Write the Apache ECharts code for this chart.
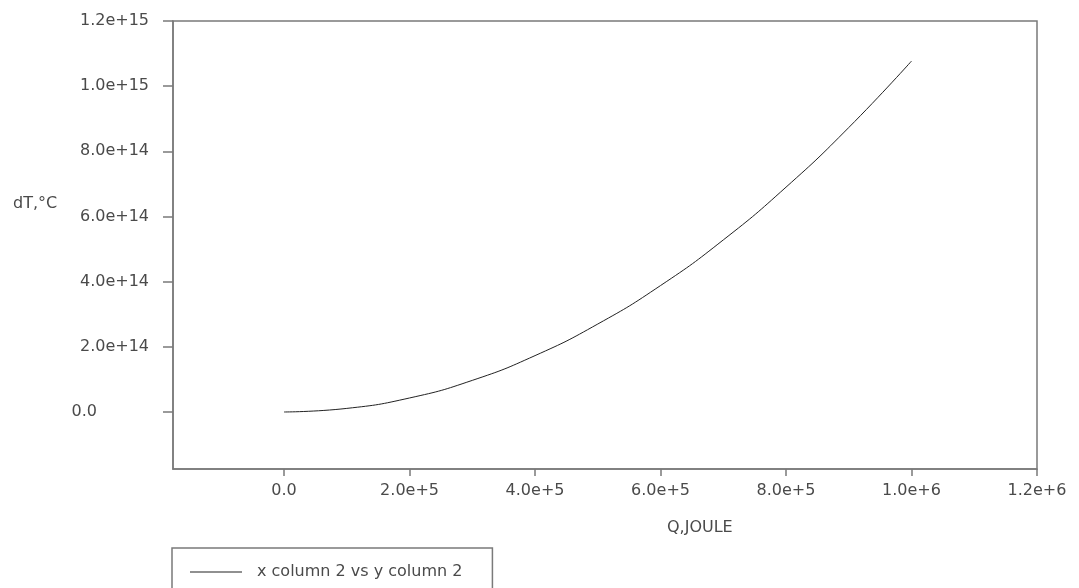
<!DOCTYPE html>
<html><head><meta charset="utf-8">
<script src="https://cdn.jsdelivr.net/npm/echarts@6/dist/echarts.min.js"></script>
<style>html,body{margin:0;padding:0;background:#fff}#c{width:1079px;height:588px}</style>
</head><body><div id="c"></div>
<script>
const xValues = [0, 1e5, 2e5, 3e5, 4e5, 5e5, 6e5, 7e5, 8e5, 9e5, 1e6];
const yValues = [0, 1.1e13, 4.3e13, 9.7e13, 1.73e14, 2.7e14, 3.88e14, 5.28e14, 6.9e14, 8.73e14, 1.077e15];
const xTicks = [0, 2e5, 4e5, 6e5, 8e5, 1e6, 1.2e6];
const yTicks = [0, 2e14, 4e14, 6e14, 8e14, 1e15, 1.2e15];
const seriesName = 'x column 2 vs y column 2';
const xTitle = 'Q,JOULE';
const yTitle = 'dT,°C';

function fmt(v){ return v === 0 ? '0.0' : v.toExponential(1); }
const axisColor = '#7a7a7a';
const textColor = '#4a4a4a';
const font = 'DejaVu Sans, Liberation Sans, sans-serif';
const fs = 16;

const chart = echarts.init(document.getElementById('c'), null, {renderer:'canvas'});
chart.setOption({
  animation:false,
  backgroundColor:'#fff',
  grid:{left:173, right:42, top:21, bottom:119, show:true, borderColor:axisColor, borderWidth:1.5},
  xAxis:{type:'value', min:-1.77e5, max:1.2e6,
    axisLine:{show:true, onZero:false, lineStyle:{color:axisColor, width:1.5}},
    splitLine:{show:false},
    axisTick:{show:true, length:7, customValues:xTicks, lineStyle:{color:axisColor, width:1.5}},
    axisLabel:{customValues:xTicks, formatter:fmt, margin:14, color:textColor, fontSize:fs, fontFamily:font}
  },
  yAxis:{type:'value', min:-1.75e14, max:1.2e15,
    axisLine:{show:true, onZero:false, lineStyle:{color:axisColor, width:1.5}},
    splitLine:{show:false},
    axisTick:{show:true, length:10, customValues:yTicks, lineStyle:{color:axisColor, width:1.5}},
    axisLabel:{customValues:yTicks, margin:24, color:textColor, fontSize:fs, fontFamily:font,
      formatter:function(v){ return v===0 ? '{z|0.0}' : fmt(v); },
      rich:{z:{padding:[0,52,0,0], color:textColor, fontSize:fs, fontFamily:font}}}
  },
  legend:{left:172, top:548, orient:'vertical', data:[{name:seriesName, icon:'rect'}],
    itemWidth:52, itemHeight:1, itemGap:4,
    borderColor:axisColor, borderWidth:1.5, padding:[16,30,30,18],
    textStyle:{color:textColor, fontSize:fs, fontFamily:font, padding:[0,0,0,10]}},
  graphic:[
    {type:'text', left:13, top:196, style:{text:yTitle, fill:textColor, font:fs+'px '+font}},
    {type:'text', left:667, top:520, style:{text:xTitle, fill:textColor, font:fs+'px '+font}}
  ],
  series:[{type:'line', name:seriesName, data:xValues.map((x,i)=>[x,yValues[i]]),
    smooth:true, symbol:'none', lineStyle:{color:'#222', width:1}, itemStyle:{color:'#222'}}]
});
</script></body></html>
